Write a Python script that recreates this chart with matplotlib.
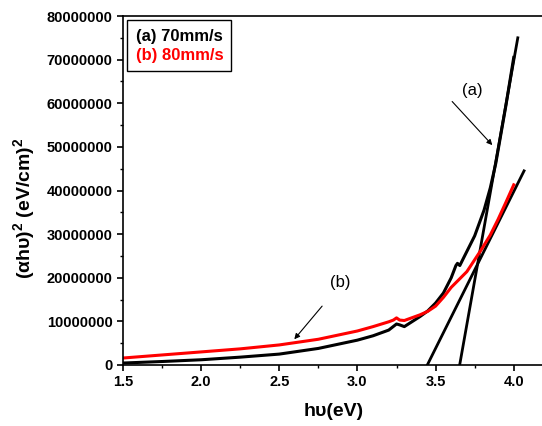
import matplotlib
matplotlib.use("Agg")
import matplotlib.pyplot as plt
from matplotlib.lines import Line2D
from matplotlib.ticker import MultipleLocator

plt.rcParams["font.family"] = ["Liberation Sans", "DejaVu Sans"]
plt.rcParams["mathtext.fontset"] = "custom"
plt.rcParams["mathtext.rm"] = "Liberation Sans:bold"
plt.rcParams["mathtext.it"] = "Liberation Sans:bold"
plt.rcParams["mathtext.bf"] = "Liberation Sans:bold"

# muestra (a) 70 mm/s
energia_a = [1.5, 1.75, 2.0, 2.25, 2.5, 2.75, 3.0, 3.1, 3.2, 3.25, 3.27, 3.3,
             3.4, 3.45, 3.5, 3.55, 3.6, 3.63, 3.64, 3.655, 3.68, 3.75, 3.81,
             3.85, 3.885, 3.95, 4.0]
abs_a = [0.45e6, 0.8e6, 1.2e6, 1.8e6, 2.5e6, 3.8e6, 5.7e6, 6.7e6, 8.0e6,
         9.4e6, 9.2e6, 8.8e6, 11.1e6, 12.4e6, 14.2e6, 16.5e6, 20.0e6, 22.8e6,
         23.3e6, 22.8e6, 24.6e6, 29.6e6, 35.5e6, 40.6e6, 46.2e6, 59.5e6,
         70.5e6]

# muestra (b) 80 mm/s
energia_b = [1.5, 1.75, 2.0, 2.25, 2.5, 2.75, 3.0, 3.1, 3.2, 3.23, 3.25, 3.27,
             3.3, 3.4, 3.45, 3.5, 3.55, 3.6, 3.65, 3.7, 3.79, 3.85, 3.9, 3.95,
             4.0]
abs_b = [1.6e6, 2.3e6, 3.0e6, 3.7e6, 4.6e6, 5.9e6, 7.8e6, 8.8e6, 9.9e6,
         10.3e6, 10.8e6, 10.3e6, 10.2e6, 11.5e6, 12.3e6, 13.5e6, 15.5e6,
         17.8e6, 19.6e6, 21.4e6, 26.3e6, 29.8e6, 33.4e6, 37.3e6, 41.3e6]

# rectas tangentes (extremos)
tangente_a_x = [3.654, 4.026]
tangente_a_y = [0, 75.0e6]
tangente_b_x = [3.447, 4.066]
tangente_b_y = [0, 44.5e6]

etiquetas = ["(a) 70mm/s", "(b) 80mm/s"]
colores = ["black", "red"]

fig = plt.figure(figsize=(5.42, 4.26), dpi=100)
ax = fig.add_axes([123 / 542, 61 / 426, 422 / 542, 349 / 426])

ax.plot(tangente_a_x, tangente_a_y, color="black", lw=2.0)
ax.plot(tangente_b_x, tangente_b_y, color="black", lw=2.0)
ax.plot(energia_a, abs_a, color="black", lw=2.2)
ax.plot(energia_b, abs_b, color="red", lw=2.2)

ax.set_xlim(1.5, 4.2)
ax.set_ylim(0, 80000000)
ax.xaxis.set_major_locator(MultipleLocator(0.5))
ax.xaxis.set_minor_locator(MultipleLocator(0.25))
ax.yaxis.set_major_locator(MultipleLocator(10000000))
ax.yaxis.set_minor_locator(MultipleLocator(5000000))
ax.ticklabel_format(axis="y", style="plain", useOffset=False)
ax.xaxis.set_major_formatter(matplotlib.ticker.FormatStrFormatter("%.1f"))

ax.tick_params(which="major", direction="out", length=4, width=1.2,
               labelsize=10.5)
ax.tick_params(which="minor", direction="out", length=2.5, width=1.0)
for lab in ax.get_xticklabels() + ax.get_yticklabels():
    lab.set_fontweight("bold")
for sp in ax.spines.values():
    sp.set_linewidth(1.2)

ax.set_xlabel("hυ(eV)", fontsize=14, fontweight="bold", labelpad=10)
ax.set_ylabel("(αhυ)$^2$ (eV/cm)$^2$", fontsize=14, fontweight="bold")
ax.yaxis.set_label_coords(-0.204, 0.45)

# leyenda sin marcadores, texto coloreado
handles = [Line2D([], [], lw=0) for _ in etiquetas]
leg = ax.legend(handles, etiquetas, loc="upper left", handlelength=0,
                handletextpad=0, labelcolor=colores, fancybox=False,
                edgecolor="black", framealpha=1, borderaxespad=0.25,
                labelspacing=0.25, borderpad=0.5,
                prop={"weight": "bold", "size": 12})
leg.get_frame().set_linewidth(1.0)

# flechas de identificacion
ax.annotate("", xy=(3.863, 50.4e6), xytext=(3.606, 60.4e6),
            arrowprops=dict(arrowstyle="-|>", lw=0.8, color="black",
                            mutation_scale=8, shrinkA=0, shrinkB=0))
ax.text(3.735, 63.0e6, "(a)", fontsize=12, ha="center", va="center")
ax.annotate("", xy=(2.596, 5.9e6), xytext=(2.774, 13.5e6),
            arrowprops=dict(arrowstyle="-|>", lw=0.8, color="black",
                            mutation_scale=8, shrinkA=0, shrinkB=0))
ax.text(2.891, 18.8e6, "(b)", fontsize=12, ha="center", va="center")

fig.savefig("out.png", dpi=100)
